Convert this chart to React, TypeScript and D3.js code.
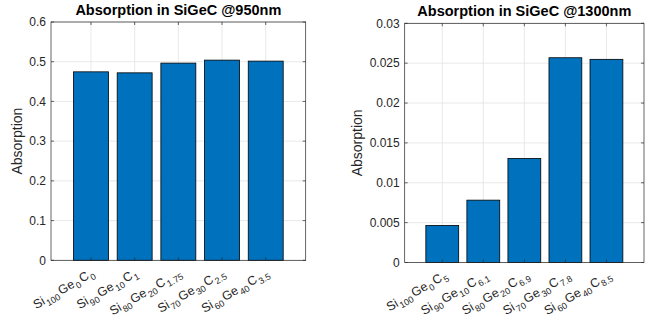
import React from 'react';
import * as d3 from 'd3';

// composition of each sample (subscripts in the tick labels)
const siParts = ['100', '90', '80', '70', '60'];
const geParts = ['0', '10', '20', '30', '40'];
const cParts950 = ['0', '1', '1.75', '2.5', '3.5'];
const cParts1300 = ['5', '6.1', '6.9', '7.8', '8.5'];

const absorption950 = [0.4745, 0.472, 0.4965, 0.504, 0.5015];
const absorption1300 = [0.00465, 0.00782, 0.01305, 0.02568, 0.02548];

const yTicks950 = [0, 0.1, 0.2, 0.3, 0.4, 0.5, 0.6];
const yTickLabels950 = ['0', '0.1', '0.2', '0.3', '0.4', '0.5', '0.6'];
const yTicks1300 = [0, 0.005, 0.01, 0.015, 0.02, 0.025, 0.03];
const yTickLabels1300 = ['0', '0.005', '0.01', '0.015', '0.02', '0.025', '0.03'];

const blue = '#0072BD';
const ink = '#262626';
const gridColor = '#e3e3e3';
const font = '"Liberation Sans", Arial, Helvetica, sans-serif';

type PanelProps = {
  title: string;
  values: number[];
  cParts: string[];
  yTicks: number[];
  yTickLabels: string[];
  left: number;
  right: number;
  top: number;
  bottom: number;
  ylabelX: number;
  labelDx: number;
};

const Label = ({ x, y, si, ge, c }: { x: number; y: number; si: string; ge: string; c: string }) => {
  const sub = { fontSize: 9 };
  const parts: [string, string][] = [['Si', si], ['Ge', ge], ['C', c]];
  return (
    <text
      transform={`translate(${x},${y}) rotate(-30)`}
      textAnchor="end"
      fontSize={12.5}
      fill={ink}
      fontFamily={font}
    >
      {parts.map(([b, s], i) => (
        <React.Fragment key={i}>
          <tspan dx={i === 0 ? 0 : 1.5} dy={i === 0 ? 0 : -3.5}>{b}</tspan>
          <tspan dx={1} dy={3.5} style={sub}>{s}</tspan>
        </React.Fragment>
      ))}
    </text>
  );
};

const Panel = (p: PanelProps) => {
  const idx = p.values.map((_, i) => i);
  const x = d3
    .scaleBand<number>()
    .domain(idx)
    .range([p.left, p.right])
    .paddingInner(0.2)
    .paddingOuter(0.515);
  const y = d3
    .scaleLinear()
    .domain([p.yTicks[0], p.yTicks[p.yTicks.length - 1]])
    .range([p.bottom, p.top]);
  const cx = (i: number) => (x(i) as number) + x.bandwidth() / 2;
  const tl = 3;

  return (
    <g>
      {/* grid */}
      {p.yTicks.map((t) => (
        <line key={'gy' + t} x1={p.left} x2={p.right} y1={y(t)} y2={y(t)} stroke={gridColor} strokeWidth={0.8} />
      ))}
      {idx.map((i) => (
        <line key={'gx' + i} x1={cx(i)} x2={cx(i)} y1={p.top} y2={p.bottom} stroke={gridColor} strokeWidth={0.8} />
      ))}
      {/* bars */}
      {p.values.map((v, i) => (
        <rect
          key={'b' + i}
          x={x(i)}
          y={y(v)}
          width={x.bandwidth()}
          height={y(0) - y(v)}
          fill={blue}
          stroke="#000"
          strokeWidth={0.8}
        />
      ))}
      {/* box */}
      <rect x={p.left} y={p.top} width={p.right - p.left} height={p.bottom - p.top} fill="none" stroke={ink} strokeWidth={0.7} />
      {/* ticks */}
      {idx.map((i) => (
        <g key={'tx' + i}>
          <line x1={cx(i)} x2={cx(i)} y1={p.bottom} y2={p.bottom - tl} stroke={ink} strokeWidth={0.7} />
          <line x1={cx(i)} x2={cx(i)} y1={p.top} y2={p.top + tl} stroke={ink} strokeWidth={0.7} />
        </g>
      ))}
      {p.yTicks.map((t, k) => (
        <g key={'ty' + t}>
          <line x1={p.left} x2={p.left + tl} y1={y(t)} y2={y(t)} stroke={ink} strokeWidth={0.7} />
          <line x1={p.right} x2={p.right - tl} y1={y(t)} y2={y(t)} stroke={ink} strokeWidth={0.7} />
          <text
            x={p.left - 5}
            y={y(t)}
            dy="0.35em"
            textAnchor="end"
            fontSize={12}
            fill={ink}
            fontFamily={font}
          >
            {p.yTickLabels[k]}
          </text>
        </g>
      ))}
      {/* x tick labels */}
      {idx.map((i) => (
        <Label key={'l' + i} x={cx(i) + p.labelDx} y={p.bottom + 15} si={siParts[i]} ge={geParts[i]} c={p.cParts[i]} />
      ))}
      {/* titles */}
      <text
        x={(p.left + p.right) / 2}
        y={p.top - 7}
        textAnchor="middle"
        fontSize={14.5}
        fontWeight="bold"
        fill="#000"
        fontFamily={font}
      >
        {p.title}
      </text>
      <text
        transform={`translate(${p.ylabelX},${(p.top + p.bottom) / 2}) rotate(-90)`}
        textAnchor="middle"
        fontSize={14}
        fill={ink}
        fontFamily={font}
      >
        Absorption
      </text>
    </g>
  );
};

export default function App() {
  return (
    <svg
      width={655}
      height={320}
      style={{ position: 'absolute', left: 0, top: 0, background: '#fff' }}
    >
      <rect width={655} height={320} fill="#fff" />
      <Panel
        title="Absorption in SiGeC @950nm"
        values={absorption950}
        cParts={cParts950}
        yTicks={yTicks950}
        yTickLabels={yTickLabels950}
        left={51}
        right={305.7}
        top={22}
        bottom={260.3}
        ylabelX={22}
        labelDx={4}
      />
      <Panel
        title="Absorption in SiGeC @1300nm"
        values={absorption1300}
        cParts={cParts1300}
        yTicks={yTicks1300}
        yTickLabels={yTickLabels1300}
        left={404.7}
        right={644}
        top={23.3}
        bottom={262.5}
        ylabelX={362}
        labelDx={6}
      />
    </svg>
  );
}
